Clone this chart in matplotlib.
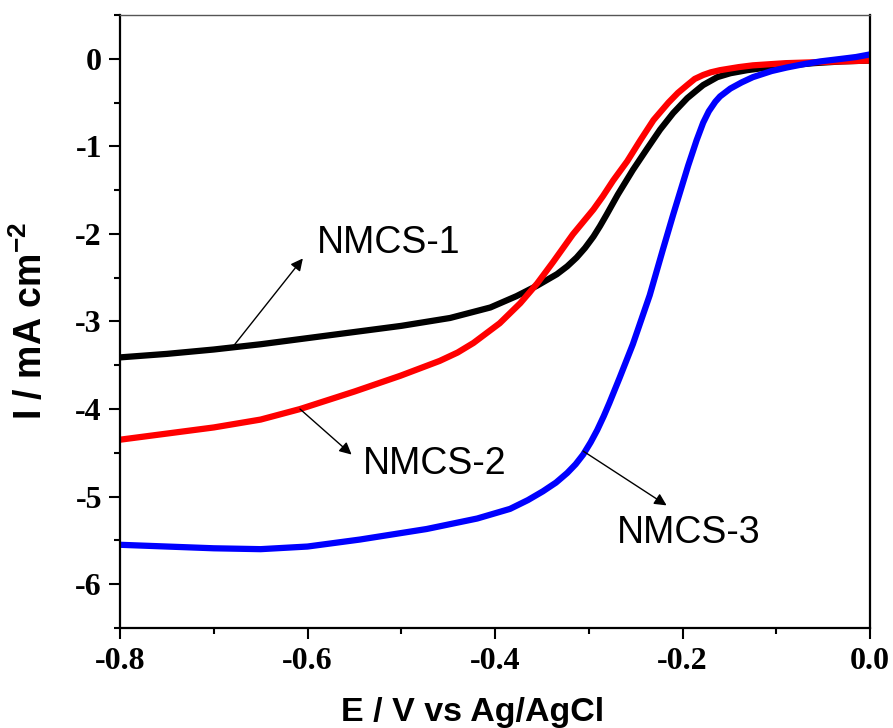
import numpy as np
import matplotlib
matplotlib.use("Agg")
import matplotlib.pyplot as plt
from matplotlib.ticker import MultipleLocator

plt.rcParams['mathtext.fontset'] = 'custom'
plt.rcParams['mathtext.rm'] = 'Liberation Sans:bold'
plt.rcParams['mathtext.bf'] = 'Liberation Sans:bold'
plt.rcParams['mathtext.default'] = 'bf'

# NMCS-1 (black)
e1 = [-0.80, -0.75, -0.70, -0.65, -0.60, -0.55, -0.50, -0.448, -0.405, -0.377, -0.355,
      -0.334, -0.323, -0.313, -0.304, -0.295, -0.288, -0.281, -0.269, -0.253, -0.238,
      -0.224, -0.21, -0.195, -0.186, -0.178, -0.163, -0.149, -0.131, -0.117, -0.09,
      -0.06, -0.03, 0.0]
i1 = [-3.41, -3.37, -3.32, -3.26, -3.19, -3.12, -3.05, -2.96, -2.84, -2.71, -2.59,
      -2.46, -2.37, -2.27, -2.16, -2.03, -1.91, -1.78, -1.55, -1.27, -1.03,
      -0.81, -0.62, -0.45, -0.37, -0.30, -0.21, -0.165, -0.13, -0.11, -0.08,
      -0.05, -0.03, -0.02]

# NMCS-2 (red)
e2 = [-0.80, -0.75, -0.70, -0.65, -0.608, -0.55, -0.501, -0.459, -0.44, -0.423, -0.395,
      -0.373, -0.355, -0.338, -0.317, -0.295, -0.285, -0.274, -0.259, -0.245, -0.231,
      -0.215, -0.205, -0.195, -0.187, -0.178, -0.170, -0.160, -0.140, -0.125, -0.09,
      -0.06, -0.03, 0.0]
i2 = [-4.35, -4.28, -4.21, -4.12, -4.00, -3.80, -3.62, -3.45, -3.355, -3.245, -3.02,
      -2.79, -2.565, -2.32, -2.005, -1.72, -1.57, -1.39, -1.17, -0.93, -0.70,
      -0.50, -0.39, -0.30, -0.23, -0.185, -0.155, -0.13, -0.095, -0.075, -0.05,
      -0.04, -0.03, -0.02]

# NMCS-3 (blue)
e3 = [-0.80, -0.75, -0.70, -0.65, -0.60, -0.544, -0.473, -0.419, -0.384, -0.365, -0.349,
      -0.335, -0.323, -0.314, -0.306, -0.298, -0.291, -0.284, -0.278, -0.267, -0.253,
      -0.235, -0.221, -0.210, -0.194, -0.185, -0.178, -0.172, -0.165, -0.160, -0.149,
      -0.137, -0.125, -0.105, -0.089, -0.07, -0.053, -0.03, -0.015, 0.0]
i3 = [-5.55, -5.57, -5.59, -5.60, -5.57, -5.49, -5.37, -5.25, -5.14, -5.04, -4.94,
      -4.84, -4.73, -4.63, -4.52, -4.38, -4.24, -4.08, -3.93, -3.64, -3.26,
      -2.70, -2.18, -1.78, -1.22, -0.93, -0.73, -0.60, -0.49, -0.43, -0.34,
      -0.27, -0.21, -0.14, -0.10, -0.06, -0.03, 0.00, 0.02, 0.05]

labels = ['NMCS-1', 'NMCS-2', 'NMCS-3']
label_pos = [(-0.59, -2.10), (-0.541, -4.63), (-0.27, -5.42)]
arrow_from = [(-0.679, -3.28), (-0.608, -4.00), (-0.306, -4.48)]
arrow_to = [(-0.605, -2.28), (-0.553, -4.52), (-0.217, -5.10)]

fig = plt.figure(figsize=(8.93, 7.28), dpi=100)
ax = fig.add_axes([0.1344, 0.1374, 0.8399, 0.842])

ax.plot(e1, i1, color='black', lw=4.5, solid_capstyle='butt', solid_joinstyle='round')
ax.plot(e2, i2, color='red', lw=4.5, solid_capstyle='butt', solid_joinstyle='round')
ax.plot(e3, i3, color='blue', lw=4.5, solid_capstyle='butt', solid_joinstyle='round')

for lab, pos, a, b in zip(labels, label_pos, arrow_from, arrow_to):
    ax.annotate('', xy=b, xytext=a,
                arrowprops=dict(arrowstyle='-|>', color='black', lw=1.0,
                                mutation_scale=18, shrinkA=0, shrinkB=0))
    ax.text(pos[0], pos[1], lab, fontsize=27, family='Liberation Sans',
            ha='left', va='center')

ax.set_xlim(-0.8, 0.0)
ax.set_ylim(-6.5, 0.5)
ax.xaxis.set_major_locator(MultipleLocator(0.2))
ax.xaxis.set_minor_locator(MultipleLocator(0.1))
ax.yaxis.set_major_locator(MultipleLocator(1))
ax.yaxis.set_minor_locator(MultipleLocator(0.5))
ax.xaxis.set_major_formatter(plt.FuncFormatter(lambda v, p: f'{v:.1f}'))
ax.yaxis.set_major_formatter(plt.FuncFormatter(lambda v, p: f'{v:.0f}'))

ax.tick_params(axis='both', which='major', direction='out', length=8, width=1.5)
ax.tick_params(axis='both', which='minor', direction='out', length=4.5, width=1.5)
ax.tick_params(axis='x', which='major', pad=6)
ax.tick_params(axis='y', which='major', pad=5)
for lab in ax.get_xticklabels():
    lab.set_fontfamily('Liberation Serif')
    lab.set_fontweight('bold')
    lab.set_fontsize(23)
for lab in ax.get_yticklabels():
    lab.set_fontfamily('Liberation Serif')
    lab.set_fontweight('bold')
    lab.set_fontsize(23)

for side in ['left', 'bottom', 'right']:
    ax.spines[side].set_linewidth(1.6)
ax.spines['top'].set_linewidth(1.0)
ax.spines['top'].set_color('#555555')

ax.set_xlabel('E / V vs Ag/AgCl', fontsize=24.5, fontweight='bold', family='Liberation Sans')
ax.set_ylabel(r'I / mA cm$^{-2}$', fontsize=27, fontweight='bold', family='Liberation Sans')
ax.xaxis.set_label_coords(0.47, -0.112)
ax.yaxis.set_label_coords(-0.093, 0.5)

fig.savefig('out.png', dpi=100)
